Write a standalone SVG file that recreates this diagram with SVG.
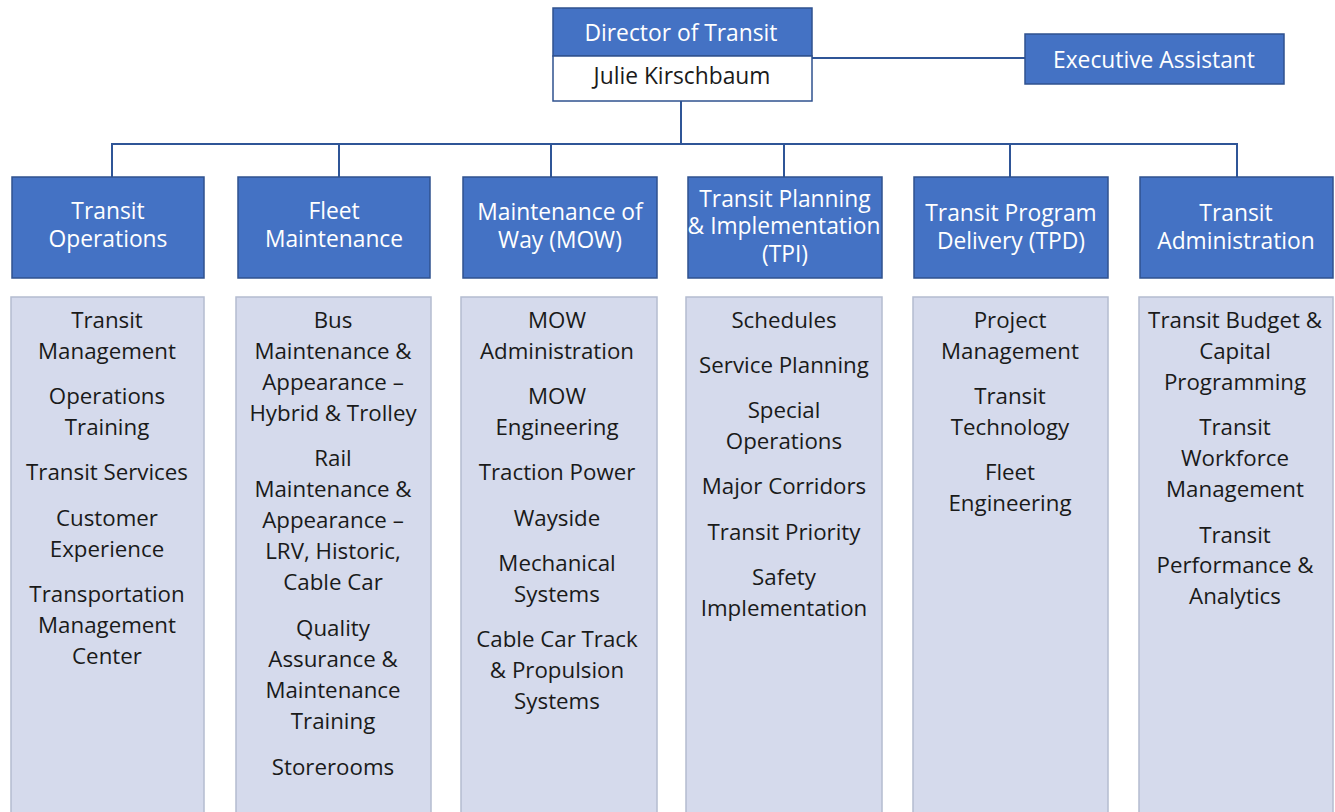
<svg xmlns="http://www.w3.org/2000/svg" width="1335" height="812" viewBox="0 0 1335 812">
<style>
.hdr{fill:#4472C4;stroke:#2F528F;stroke-width:1.5}
.wht{fill:#FFFFFF;stroke:#2F528F;stroke-width:1.5}
.pnl{fill:#D5DAEC;stroke:#B4BCD0;stroke-width:1.5}
.conn{fill:none;stroke:#2F5597;stroke-width:2}
text{font-family:"Open Sans","Noto Sans",sans-serif;font-size:22.3px;text-anchor:middle}
.w{fill:#FFFFFF;font-size:22.8px}
.d{fill:#1A1A1A}
</style>
<rect width="1335" height="812" fill="#FFFFFF"/>
<g id="connectors">
<path class="conn" d="M812,58 L1025,58"/>
<path class="conn" d="M681,101 L681,144"/>
<path class="conn" d="M112,177 L112,144 L1237,144 L1237,177"/>
<path class="conn" d="M339,144 L339,177 M551,144 L551,177 M784,144 L784,177 M1010,144 L1010,177"/>
</g>
<g id="director">
<rect class="hdr" x="553" y="8" width="259" height="48"/>
<rect class="wht" x="553" y="56" width="259" height="45"/>
<text class="w" x="681" y="41">Director of Transit</text>
<text class="d" x="682" y="84" style="font-size:22.8px">Julie Kirschbaum</text>
</g>
<g id="exec">
<rect class="hdr" x="1025" y="34" width="259" height="50"/>
<text class="w" x="1154" y="68">Executive Assistant</text>
</g>
<g id="transit-operations">
<rect class="hdr" x="12" y="177" width="192" height="101"/>
<text class="w" x="108" y="219">Transit</text>
<text class="w" x="108" y="247">Operations</text>
<rect class="pnl" x="11" y="297" width="193" height="520"/>
<text class="d" x="107" y="328">Transit</text>
<text class="d" x="107" y="359">Management</text>
<text class="d" x="107" y="404">Operations</text>
<text class="d" x="107" y="435">Training</text>
<text class="d" x="107" y="480">Transit Services</text>
<text class="d" x="107" y="526">Customer</text>
<text class="d" x="107" y="557">Experience</text>
<text class="d" x="107" y="602">Transportation</text>
<text class="d" x="107" y="633">Management</text>
<text class="d" x="107" y="664">Center</text>
</g>
<g id="fleet-maintenance">
<rect class="hdr" x="238" y="177" width="192" height="101"/>
<text class="w" x="334" y="219">Fleet</text>
<text class="w" x="334" y="247">Maintenance</text>
<rect class="pnl" x="236" y="297" width="195" height="520"/>
<text class="d" x="333" y="328">Bus</text>
<text class="d" x="333" y="359">Maintenance &amp;</text>
<text class="d" x="333" y="390">Appearance –</text>
<text class="d" x="333" y="421">Hybrid &amp; Trolley</text>
<text class="d" x="333" y="466">Rail</text>
<text class="d" x="333" y="497">Maintenance &amp;</text>
<text class="d" x="333" y="528">Appearance –</text>
<text class="d" x="333" y="559">LRV, Historic,</text>
<text class="d" x="333" y="590">Cable Car</text>
<text class="d" x="333" y="636">Quality</text>
<text class="d" x="333" y="667">Assurance &amp;</text>
<text class="d" x="333" y="698">Maintenance</text>
<text class="d" x="333" y="729">Training</text>
<text class="d" x="333" y="775">Storerooms</text>
</g>
<g id="mow">
<rect class="hdr" x="463" y="177" width="194" height="101"/>
<text class="w" x="560" y="220">Maintenance of</text>
<text class="w" x="560" y="248">Way (MOW)</text>
<rect class="pnl" x="461" y="297" width="196" height="520"/>
<text class="d" x="557" y="328">MOW</text>
<text class="d" x="557" y="359">Administration</text>
<text class="d" x="557" y="404">MOW</text>
<text class="d" x="557" y="435">Engineering</text>
<text class="d" x="557" y="480">Traction Power</text>
<text class="d" x="557" y="526">Wayside</text>
<text class="d" x="557" y="571">Mechanical</text>
<text class="d" x="557" y="602">Systems</text>
<text class="d" x="557" y="647">Cable Car Track</text>
<text class="d" x="557" y="678">&amp; Propulsion</text>
<text class="d" x="557" y="709">Systems</text>
</g>
<g id="tpi">
<rect class="hdr" x="688" y="177" width="194" height="101"/>
<text class="w" x="785" y="207">Transit Planning</text>
<text class="w" x="784" y="234">&amp; Implementation</text>
<text class="w" x="785" y="262">(TPI)</text>
<rect class="pnl" x="686" y="297" width="196" height="520"/>
<text class="d" x="784" y="328">Schedules</text>
<text class="d" x="784" y="373">Service Planning</text>
<text class="d" x="784" y="418">Special</text>
<text class="d" x="784" y="449">Operations</text>
<text class="d" x="784" y="494">Major Corridors</text>
<text class="d" x="784" y="540">Transit Priority</text>
<text class="d" x="784" y="585">Safety</text>
<text class="d" x="784" y="616">Implementation</text>
</g>
<g id="tpd">
<rect class="hdr" x="914" y="177" width="194" height="101"/>
<text class="w" x="1011" y="221">Transit Program</text>
<text class="w" x="1011" y="249">Delivery (TPD)</text>
<rect class="pnl" x="913" y="297" width="195" height="520"/>
<text class="d" x="1010" y="328">Project</text>
<text class="d" x="1010" y="359">Management</text>
<text class="d" x="1010" y="404">Transit</text>
<text class="d" x="1010" y="435">Technology</text>
<text class="d" x="1010" y="480">Fleet</text>
<text class="d" x="1010" y="511">Engineering</text>
</g>
<g id="transit-administration">
<rect class="hdr" x="1140" y="177" width="193" height="101"/>
<text class="w" x="1236" y="221">Transit</text>
<text class="w" x="1236" y="249">Administration</text>
<rect class="pnl" x="1139" y="297" width="194" height="520"/>
<text class="d" x="1235" y="328">Transit Budget &amp;</text>
<text class="d" x="1235" y="359">Capital</text>
<text class="d" x="1235" y="390">Programming</text>
<text class="d" x="1235" y="435">Transit</text>
<text class="d" x="1235" y="466">Workforce</text>
<text class="d" x="1235" y="497">Management</text>
<text class="d" x="1235" y="543">Transit</text>
<text class="d" x="1235" y="573">Performance &amp;</text>
<text class="d" x="1235" y="604">Analytics</text>
</g>
</svg>
